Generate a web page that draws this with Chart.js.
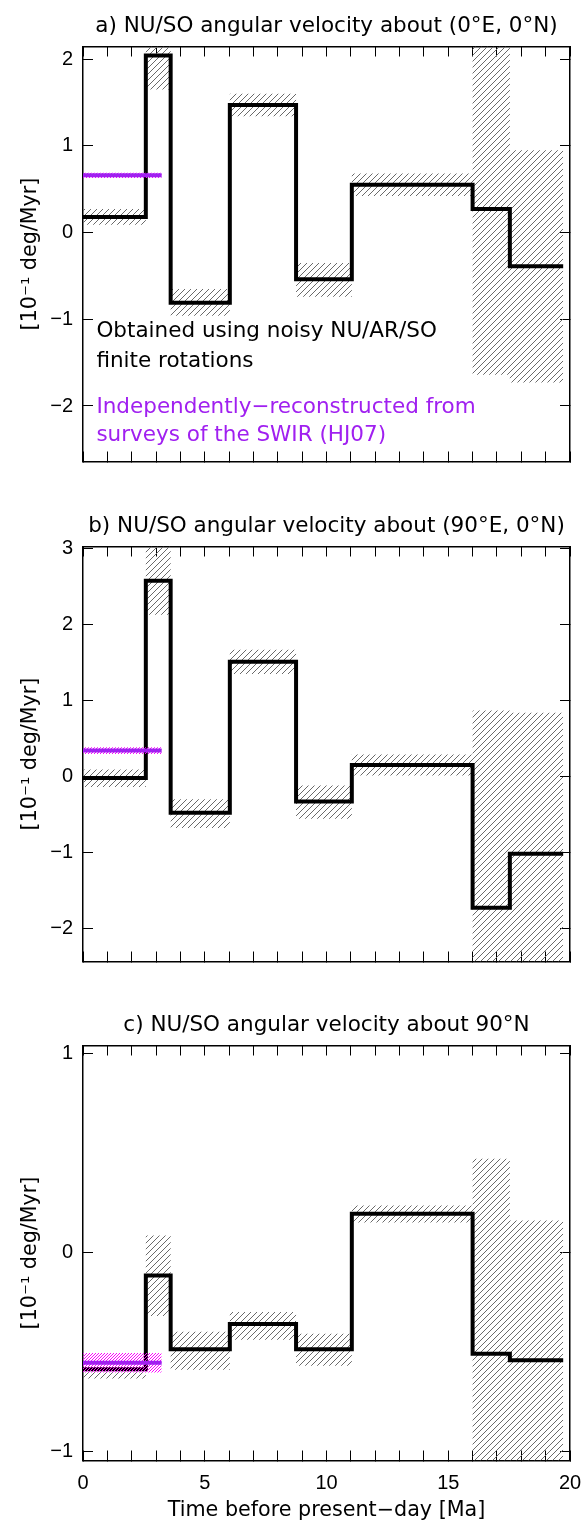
<!DOCTYPE html>
<html>
<head>
<meta charset="utf-8">
<title>NU/SO angular velocity</title>
<script src="https://cdn.jsdelivr.net/npm/chart.js@4.4.1/dist/chart.umd.min.js"></script>
<style>
  html, body { margin: 0; padding: 0; background: #fff; }
  #wrap { position: relative; width: 585px; height: 1524px; overflow: hidden; }
  canvas { position: absolute; left: 0; }
</style>
</head>
<body>
<div id="wrap">
  <canvas id="panelA" width="585" height="500" style="top:0px"></canvas>
  <canvas id="panelB" width="585" height="500" style="top:500px"></canvas>
  <canvas id="panelC" width="585" height="525" style="top:999px"></canvas>
</div>
<script>
// stage boundaries, Ma before present
const ageEdges = [0, 2.58, 3.6, 6.03, 8.75, 11.04, 16.0, 17.53, 19.72];
// HJ07 SWIR estimate covers 0 - 3.23 Ma
const hjAges = [0, 3.23];

// a) about (0E, 0N)
const omegaA = [0.18, 2.04, -0.81, 1.47, -0.54, 0.55, 0.27, -0.39];
const upperA = [0.27, 2.20, -0.65, 1.60, -0.35, 0.68, 2.60, 0.95];
const lowerA = [0.09, 1.65, -0.96, 1.34, -0.74, 0.42, -1.64, -1.73];
const hjA = [0.66, 0.63, 0.69]; // value, low, high

// b) about (90E, 0N)
const omegaB = [-0.02, 2.58, -0.48, 1.51, -0.33, 0.15, -1.73, -1.02];
const upperB = [0.09, 3.30, -0.30, 1.67, -0.12, 0.29, 0.87, 0.84];
const lowerB = [-0.14, 2.13, -0.68, 1.35, -0.56, 0.01, -2.60, -2.60];
const hjB = [0.34, 0.295, 0.385];

// c) about 90N
const omegaC = [-0.588, -0.117, -0.487, -0.36, -0.487, 0.194, -0.51, -0.543];
const upperC = [-0.54, 0.084, -0.40, -0.30, -0.41, 0.235, 0.47, 0.16];
const lowerC = [-0.635, -0.32, -0.59, -0.44, -0.57, 0.15, -1.20, -1.20];
const hjC = [-0.556, -0.605, -0.507];

const titles = [
    'a) NU/SO angular velocity about (0°E, 0°N)',
    'b) NU/SO angular velocity about (90°E, 0°N)',
    'c) NU/SO angular velocity about 90°N'
];
const yLimits = [[-2.64, 2.145], [-2.44, 3.03], [-1.047, 1.04]];
const xTickLabels = [0, 5, 10, 15, 20];
const yTitle = '[10⁻¹ deg/Myr]';
const xTitle = 'Time before present−day [Ma]';
const noteBlack = ['Obtained using noisy NU/AR/SO', 'finite rotations'];
const notePurple = ['Independently−reconstructed from', 'surveys of the SWIR (HJ07)'];

const TEXT_FONT = 'DejaVu Sans';
const TICK_FONT = 'Liberation Sans';
const PURPLE = '#A020F0';

function hatch(color, gap, width) {
    const c = document.createElement('canvas');
    c.width = gap;
    c.height = gap;
    const g = c.getContext('2d');
    g.strokeStyle = color;
    g.lineWidth = width;
    g.beginPath();
    [-gap, 0, gap].forEach(o => {
        g.moveTo(o - 1, gap + 1);
        g.lineTo(o + gap + 1, -1);
    });
    g.stroke();
    return g.createPattern(c, 'repeat');
}

function steps(values) {
    const pts = values.map((v, i) => ({ x: ageEdges[i], y: v }));
    pts.push({ x: ageEdges[values.length], y: values[values.length - 1] });
    return pts;
}

function flat(v) {
    return hjAges.map(a => ({ x: a, y: v }));
}

function fmtY(v) {
    return v < 0 ? '−' + Math.abs(v) : String(v);
}

// keep the plot box where it is: no extra room for tick labels
function noPad(s) {
    s.paddingLeft = 0;
    s.paddingRight = 0;
    s.paddingTop = 0;
    s.paddingBottom = 0;
}

// draws the two text notes of panel a at data positions
const notePlugin = {
    id: 'notes',
    afterDraw(chart, args, opts) {
        if (!opts.lines || !opts.lines.length) return;
        const { ctx, scales } = chart;
        ctx.save();
        ctx.font = '21.5px "' + TEXT_FONT + '"';
        ctx.textBaseline = 'alphabetic';
        ctx.textAlign = 'left';
        opts.lines.forEach(l => {
            ctx.fillStyle = l.color;
            ctx.fillText(l.text, scales.x.getPixelForValue(l.x), scales.y.getPixelForValue(l.y));
        });
        ctx.restore();
    }
};

function makePanel(id, idx, omega, upper, lower, hj, isLast, notes) {
    const grey = hatch('#6a6a6a', 6, 1);
    const pink = hatch('#FF00FF', 3, 1);
    const canvas = document.getElementById(id);
    const bottomH = canvas.height - 461.5;

    const tickGrid = { drawOnChartArea: false, tickLength: -10, color: '#000', lineWidth: 1 };
    const frame = { display: true, color: '#000', width: 1.5 };

    return new Chart(canvas.getContext('2d'), {
        type: 'line',
        data: {
            datasets: [
                { data: steps(upper), stepped: true, borderColor: 'transparent', borderWidth: 1, pointRadius: 0, fill: '+1', backgroundColor: grey, order: 3 },
                { data: steps(lower), stepped: true, borderColor: 'transparent', borderWidth: 1, pointRadius: 0, fill: false, order: 3 },
                { data: steps(omega), stepped: true, borderColor: '#000', borderWidth: 4, pointRadius: 0, fill: false, order: 2, borderJoinStyle: 'miter' },
                { data: flat(hj[2]), borderColor: 'transparent', borderWidth: 1, pointRadius: 0, fill: '+1', backgroundColor: pink, order: 1 },
                { data: flat(hj[1]), borderColor: 'transparent', borderWidth: 1, pointRadius: 0, fill: false, order: 1 },
                { data: flat(hj[0]), borderColor: PURPLE, borderWidth: 4, pointRadius: 0, fill: false, order: 0 }
            ]
        },
        options: {
            responsive: false,
            animation: false,
            events: [],
            layout: { padding: { left: 0, right: 15, top: 0, bottom: 0 }, autoPadding: false },
            plugins: {
                legend: { display: false },
                tooltip: { enabled: false },
                title: {
                    display: true,
                    text: titles[idx],
                    fullSize: false,
                    color: '#000',
                    font: { family: TEXT_FONT, size: 21.5, weight: 'normal' },
                    padding: { top: 13.1, bottom: 7.6 }
                },
                notes: { lines: notes }
            },
            scales: {
                x: {
                    type: 'linear',
                    position: 'bottom',
                    min: 0,
                    max: 20,
                    ticks: {
                        stepSize: 1,
                        autoSkip: false,
                        maxRotation: 0,
                        padding: 21.2,
                        color: '#000',
                        font: { family: TICK_FONT, size: 20 },
                        callback: v => (isLast && xTickLabels.includes(v)) ? String(v) : ''
                    },
                    grid: tickGrid,
                    border: frame,
                    title: {
                        display: isLast,
                        text: xTitle,
                        color: '#000',
                        font: { family: TEXT_FONT, size: 20.7 },
                        padding: { top: 0, bottom: 1.1 }
                    },
                    afterFit: s => { s.height = bottomH; noPad(s); }
                },
                x2: {
                    type: 'linear',
                    position: 'top',
                    min: 0,
                    max: 20,
                    ticks: { stepSize: 1, autoSkip: false, maxRotation: 0, callback: () => '' },
                    grid: tickGrid,
                    border: frame,
                    afterFit: s => { s.height = 0; noPad(s); }
                },
                y: {
                    type: 'linear',
                    position: 'left',
                    min: yLimits[idx][0],
                    max: yLimits[idx][1],
                    ticks: {
                        stepSize: 1,
                        includeBounds: false,
                        padding: 20,
                        color: '#000',
                        font: { family: TICK_FONT, size: 20 },
                        callback: v => fmtY(v)
                    },
                    grid: tickGrid,
                    border: frame,
                    title: {
                        display: true,
                        text: yTitle,
                        color: '#000',
                        font: { family: TEXT_FONT, size: 20.7 },
                        padding: { top: 18, bottom: 0 }
                    },
                    afterFit: s => { s.width = 83; noPad(s); }
                },
                y2: {
                    type: 'linear',
                    position: 'right',
                    min: yLimits[idx][0],
                    max: yLimits[idx][1],
                    ticks: { stepSize: 1, includeBounds: false, callback: () => '' },
                    grid: tickGrid,
                    border: frame,
                    afterFit: s => { s.width = 0; noPad(s); }
                }
            }
        },
        plugins: [notePlugin]
    });
}

document.addEventListener('DOMContentLoaded', () => {
    if (typeof Chart === 'undefined') {
        console.error('Chart.js not loaded!');
        return;
    }

    const notesA = [
        { text: noteBlack[0], x: 0.55, y: -1.206, color: '#000' },
        { text: noteBlack[1], x: 0.55, y: -1.545, color: '#000' },
        { text: notePurple[0], x: 0.55, y: -2.082, color: PURPLE },
        { text: notePurple[1], x: 0.55, y: -2.398, color: PURPLE }
    ];

    makePanel('panelA', 0, omegaA, upperA, lowerA, hjA, false, notesA);
    makePanel('panelB', 1, omegaB, upperB, lowerB, hjB, false, []);
    makePanel('panelC', 2, omegaC, upperC, lowerC, hjC, true, []);
});
</script>
</body>
</html>
